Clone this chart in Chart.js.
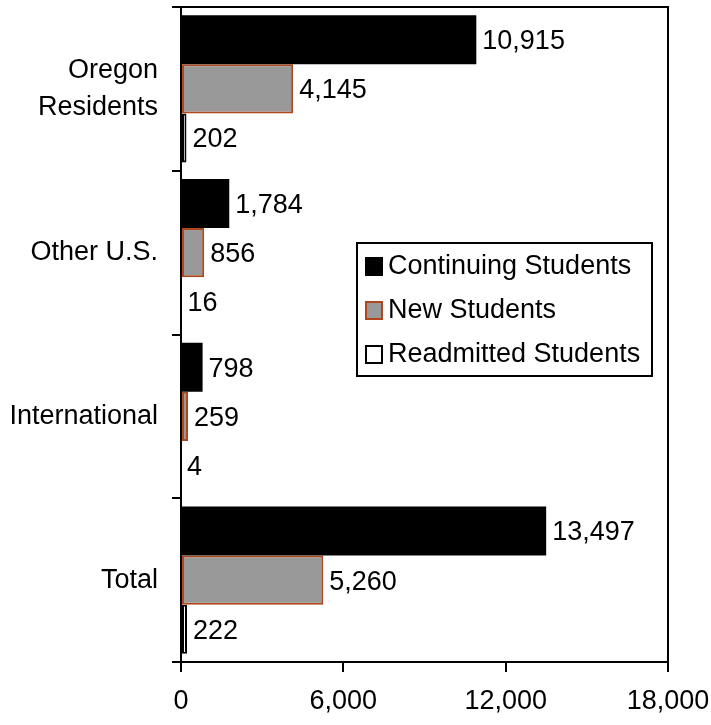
<!DOCTYPE html>
<html>
<head>
<meta charset="utf-8">
<script src="https://cdn.jsdelivr.net/npm/chart.js@4"></script>
<style>
  html,body{margin:0;padding:0;background:#fff;}
  #wrap{width:711px;height:725px;}
</style>
</head>
<body>
<div id="wrap"><canvas id="c" width="711" height="725"></canvas></div>
<script>
const categories=[['Oregon','Residents'],'Other U.S.','International','Total'];
const seriesNames=['Continuing Students','New Students','Readmitted Students'];
const continuing=[10915,1784,798,13497];
const newStudents=[4145,856,259,5260];
const readmitted=[202,16,4,222];
const xTicks=[0,6000,12000,18000];

const FONT='"Liberation Sans", Arial, sans-serif';
const fmt=v=>Number(v).toLocaleString('en-US');

// value labels at bar ends
const valueLabels={
  id:'valueLabels',
  afterDatasetsDraw(chart){
    const ctx=chart.ctx;
    ctx.save();
    ctx.font='27px '+FONT;
    ctx.fillStyle='#000';
    ctx.textAlign='left';
    ctx.textBaseline='middle';
    chart.data.datasets.forEach((ds,i)=>{
      chart.getDatasetMeta(i).data.forEach((bar,j)=>{
        ctx.fillText(fmt(ds.data[j]),bar.x+6,bar.y+2);
      });
    });
    ctx.restore();
  }
};

// frame + legend box inside the plot
const frameLegend={
  id:'frameLegend',
  afterDraw(chart){
    const {ctx,chartArea:a}=chart;
    ctx.save();
    ctx.strokeStyle='#000';
    ctx.lineWidth=2;
    ctx.beginPath();
    ctx.moveTo(a.left,a.top);ctx.lineTo(a.right,a.top);ctx.lineTo(a.right,a.bottom);
    ctx.stroke();
    // legend
    const lx=357,ly=243,lw=295,lh=133;
    ctx.fillStyle='#fff';
    ctx.fillRect(lx,ly,lw,lh);
    ctx.strokeRect(lx,ly,lw,lh);
    ctx.font='27px '+FONT;
    ctx.textBaseline='middle';
    ctx.textAlign='left';
    chart.data.datasets.forEach((ds,i)=>{
      const cy=ly+23+i*44;
      ctx.fillStyle=ds.backgroundColor;
      ctx.fillRect(366,cy-8,16,17);
      ctx.strokeStyle=ds.borderColor;
      ctx.lineWidth=2;
      ctx.strokeRect(366,cy-8,16,17);
      ctx.fillStyle='#000';
      ctx.fillText(ds.label,388,cy+1);
    });
    ctx.restore();
  }
};

new Chart(document.getElementById('c'),{
  type:'bar',
  data:{
    labels:categories,
    datasets:[
      {label:seriesNames[0],data:continuing,backgroundColor:'#000000',borderColor:'#000000',borderWidth:0},
      {label:seriesNames[1],data:newStudents,backgroundColor:'#999999',borderColor:'#b0461c',borderWidth:2},
      {label:seriesNames[2],data:readmitted,backgroundColor:'#ffffff',borderColor:'#000000',borderWidth:2}
    ]
  },
  options:{
    indexAxis:'y',
    responsive:false,
    animation:false,
    devicePixelRatio:1,
    layout:{padding:{top:7,right:43,left:0,bottom:0}},
    datasets:{bar:{categoryPercentage:0.9,barPercentage:1,borderSkipped:false}},
    plugins:{legend:{display:false},tooltip:{enabled:false}},
    scales:{
      x:{
        min:0,max:18000,
        afterBuildTicks(s){s.ticks=xTicks.map(v=>({value:v}));},
        afterFit(s){s.height=63;s.paddingLeft=0;s.paddingRight=0;},
        grid:{drawOnChartArea:false,color:'#000',lineWidth:2,tickLength:10},
        border:{display:true,color:'#000',width:2},
        ticks:{color:'#000',font:{family:FONT,size:27},padding:13,maxRotation:0,callback:v=>fmt(v)}
      },
      y:{
        afterFit(s){s.width=181;s.paddingTop=0;s.paddingBottom=0;},
        grid:{drawOnChartArea:false,color:'#000',lineWidth:2,tickLength:9,offset:true},
        border:{display:true,color:'#000',width:2},
        ticks:{color:'#000',font:{family:FONT,size:27,lineHeight:1.35},padding:14}
      }
    }
  },
  plugins:[valueLabels,frameLegend]
});
</script>
</body>
</html>
